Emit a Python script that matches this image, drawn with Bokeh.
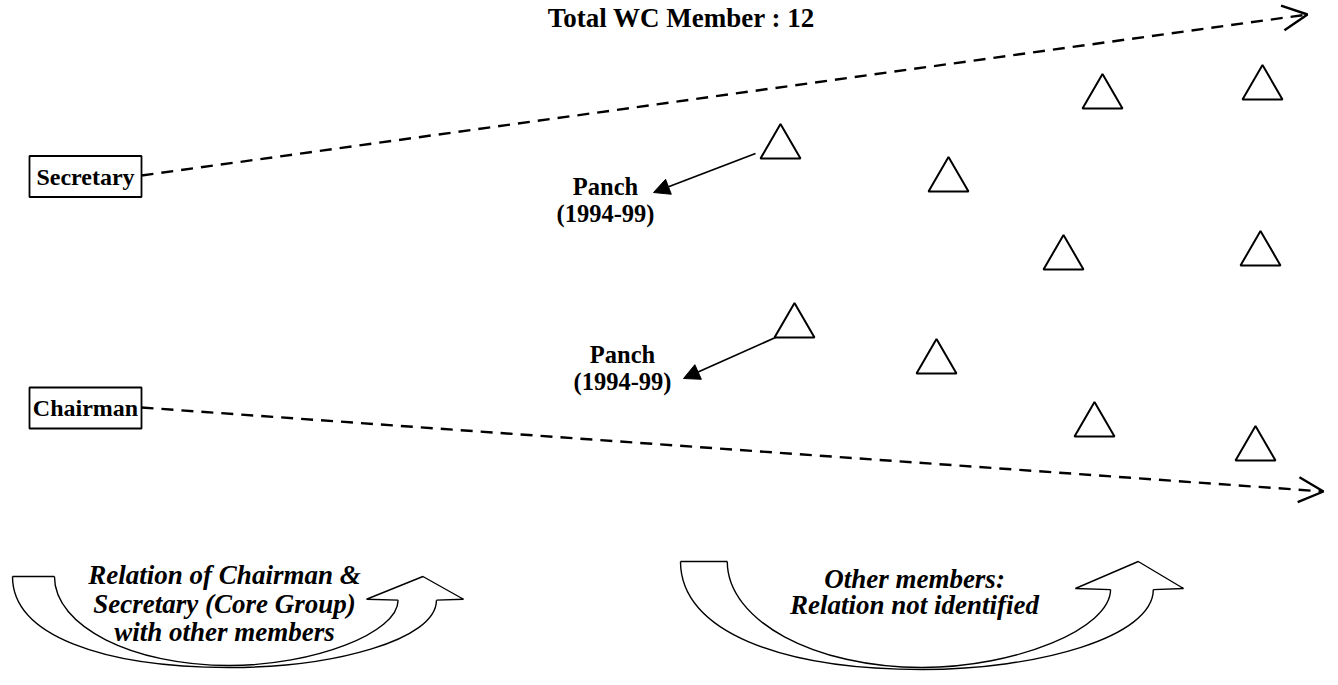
from bokeh.plotting import figure
from bokeh.models import Range1d, Arrow, OpenHead, NormalHead
from bokeh.core.properties import value
from bokeh.embed import file_html
from bokeh.resources import INLINE

# ---------------- data ----------------
title_text = "Total WC Member : 12"
title_x = [681]
title_y = [26]

core_roles = ["Secretary", "Chairman"]
core_x = [85, 85]
core_y = [176, 407.5]
core_w = 112
core_h = 41

# ten other members (triangles)
member_x = [780, 948, 1102, 1262, 1063, 1260, 794, 936, 1094, 1255]
member_y = [146.5, 179.5, 96.5, 87.5, 257.5, 253.5, 325.5, 361.5, 424.5, 448.5]

# dashed relation arrows from core group
link_start_x = [141, 141]
link_start_y = [175, 407]
link_end_x = [1307, 1323]
link_end_y = [14, 491]

# Panch labels
panch_line1 = ["Panch", "Panch"]
panch_line2 = ["(1994-99)", "(1994-99)"]
panch_label_x = [605, 622]
panch_label_y1 = [195, 363]
panch_label_y2 = [222, 390]
panch_from_x = [755, 775]
panch_from_y = [153, 337]
panch_to_x = [653, 683]
panch_to_y = [192, 378]

# curved block arrows: bounding boxes (x0, x1, y_top, y_bottom)
curve_boxes = [(12, 463, 576, 667), (680, 1183, 561, 669)]
curve_texts = [["Relation of Chairman &", "Secretary (Core Group)", "with other members"],
               ["Other members:", "Relation not identified"]]
curve_text_x = [224, 914]
curve_text_y = [[583, 612, 640], [587, 613]]

SERIF = value("Liberation Serif")
TDY = -9  # baseline correction for text glyphs

# ---------------- figure ----------------
p = figure(width=1330, height=677, x_range=Range1d(0, 1330), y_range=Range1d(677, 0),
           output_backend="svg", toolbar_location=None, min_border=0,
           x_axis_location=None, y_axis_location=None, outline_line_color=None)
p.grid.visible = False
p.background_fill_color = "white"

# title
p.text(x=title_x, y=title_y, text=[title_text], text_font=SERIF, text_font_style="bold",
       text_font_size="27px", text_align="center", text_baseline="alphabetic",
       y_offset=TDY, text_color="black")

# dashed arrows
for xs, ys, xe, ye in zip(link_start_x, link_start_y, link_end_x, link_end_y):
    p.add_layout(Arrow(end=OpenHead(size=25, line_width=2.4, line_color="black"),
                       x_start=xs, y_start=ys, x_end=xe, y_end=ye,
                       line_width=2.4, line_dash="12 8", line_color="black"))

# core boxes
p.rect(x=core_x, y=core_y, width=core_w, height=core_h, fill_color="white",
       line_color="black", line_width=1.8)
p.text(x=core_x, y=core_y, text=core_roles, text_font=SERIF, text_font_style="bold",
       text_font_size="24px", text_align="center", text_baseline="alphabetic",
       y_offset=9 + TDY, text_color="black")

# members
p.scatter(x=member_x, y=member_y, marker="triangle", size=40, fill_color="white",
          line_color="black", line_width=2)

# Panch arrows and labels
for xs, ys, xe, ye in zip(panch_from_x, panch_from_y, panch_to_x, panch_to_y):
    p.add_layout(Arrow(end=NormalHead(size=16, fill_color="black", line_color="black", line_width=1),
                       x_start=xs, y_start=ys, x_end=xe, y_end=ye,
                       line_width=1.8, line_color="black"))
p.text(x=panch_label_x, y=panch_label_y1, text=panch_line1, text_font=SERIF, text_font_style="bold",
       text_font_size="24.5px", text_align="center", text_baseline="alphabetic",
       y_offset=TDY, text_color="black")
p.text(x=panch_label_x, y=panch_label_y2, text=panch_line2, text_font=SERIF, text_font_style="bold",
       text_font_size="24.5px", text_align="center", text_baseline="alphabetic",
       y_offset=TDY, text_color="black")


# curved up arrows
def curved_up_arrow(x0, x1, y0, y1):
    w = x1 - x0
    h = y1 - y0
    X = lambda f: x0 + f * w
    Y = lambda f: y0 + f * h
    bx = X(0.48)
    xt = X(0.093)
    xi = X(0.855)
    xo = X(0.94)
    yb = Y(0.26)
    curves = [
        # outer tail
        (x0, y0, bx, y1, x0, y0 + 0.65 * h, x0 + 0.42 * (bx - x0), y1),
        # inner tail
        (xt, y0, bx, y1 - 2, xt, y0 + 0.55 * h, xt + 0.45 * (bx - xt), y1 - 2),
        # arrow outer
        (bx, y1, xo, yb, bx + 0.5 * (xo - bx), y1, xo, y1 - 0.3 * h),
        # arrow inner
        (bx, y1 - 2, xi, yb, bx + 0.5 * (xi - bx), y1 - 2, xi, y1 - 0.38 * h),
    ]
    tail = ([x0, xt], [y0, y0])
    head = ([xi, X(0.785), X(0.91), x1, xo], [yb, Y(0.25), y0, Y(0.25), yb])
    return curves, tail, head


for (x0, x1, y0, y1) in curve_boxes:
    curves, tail, head = curved_up_arrow(x0, x1, y0, y1)
    cols = list(zip(*curves))
    p.bezier(x0=list(cols[0]), y0=list(cols[1]), x1=list(cols[2]), y1=list(cols[3]),
             cx0=list(cols[4]), cy0=list(cols[5]), cx1=list(cols[6]), cy1=list(cols[7]),
             line_color="black", line_width=1.4)
    p.line(x=tail[0], y=tail[1], line_color="black", line_width=1.4)
    p.line(x=head[0], y=head[1], line_color="black", line_width=1.4)

for lines, cx, ys in zip(curve_texts, curve_text_x, curve_text_y):
    p.text(x=[cx] * len(lines), y=ys, text=lines, text_font=SERIF, text_font_style="bold italic",
           text_font_size="27px", text_align="center", text_baseline="alphabetic",
           y_offset=TDY, text_color="black")

open("out.html", "w").write(file_html(p, INLINE))
